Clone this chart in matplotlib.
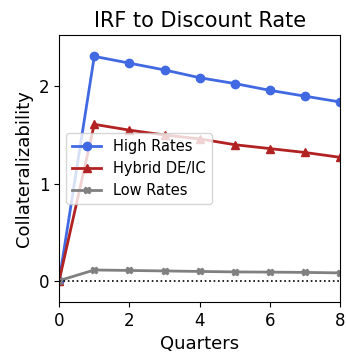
import matplotlib
matplotlib.use("Agg")
import matplotlib.pyplot as plt
import numpy as np

quarters = [0, 1, 2, 3, 4, 5, 6, 7, 8]
high_rates = [0.0, 2.31, 2.24, 2.17, 2.09, 2.03, 1.96, 1.90, 1.84]
hybrid = [0.0, 1.61, 1.55, 1.50, 1.46, 1.40, 1.36, 1.32, 1.27]
low_rates = [0.0, 0.11, 0.105, 0.10, 0.095, 0.09, 0.088, 0.085, 0.08]

fig = plt.figure(figsize=(3.46, 3.57), dpi=100)
ax = fig.add_axes([0.171, 0.154, 0.812, 0.748])
ax.plot(quarters, high_rates, color="royalblue", marker="o", markersize=6, lw=2, label="High Rates")
ax.plot(quarters, hybrid, color="firebrick", marker="^", markersize=6, lw=2, label="Hybrid DE/IC")
ax.plot(quarters, low_rates, color="gray", marker="X", markersize=5, lw=2, label="Low Rates")
ax.axhline(0, color="black", ls=":", lw=1.2)
ax.set_xlim(0, 8)
ax.set_ylim(-0.22, 2.53)
ax.set_xticks([0, 2, 4, 6, 8])
ax.set_yticks([0, 1, 2])
ax.tick_params(labelsize=12)
ax.set_xlabel("Quarters", fontsize=13)
ax.set_ylabel("Collateralizability", fontsize=13)
ax.set_title("IRF to Discount Rate", fontsize=15)
ax.legend(loc="center left", fontsize=10.5)
fig.savefig("out.png", dpi=100)
